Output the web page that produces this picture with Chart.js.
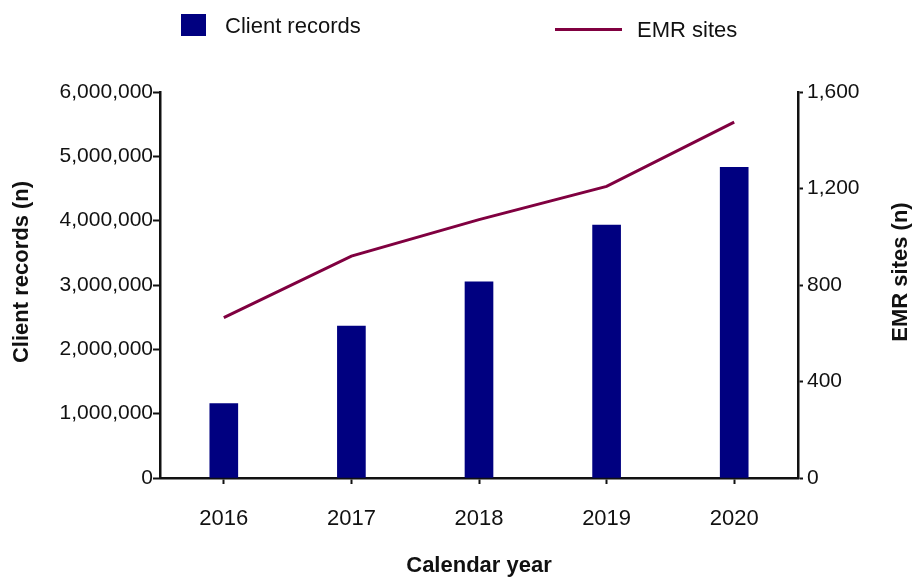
<!DOCTYPE html>
<html>
<head>
<meta charset="utf-8">
<script src="https://cdn.jsdelivr.net/npm/chart.js@4/dist/chart.umd.min.js"></script>
<style>
  html, body { margin: 0; padding: 0; background: #fff; }
  #wrap { position: relative; width: 917px; height: 577px; font-family: "Liberation Sans", Arial, sans-serif; }
  #chart { position: absolute; left: 0; top: 0; }
  .legend { position: absolute; font-size: 22px; color: #111; line-height: 1; }
  .swatch-bar { position: absolute; left: 181px; top: 14px; width: 25px; height: 22px; background: #000080; }
  .swatch-line { position: absolute; left: 555px; top: 28px; width: 67px; height: 3px; background: #800040; }
</style>
</head>
<body>
<div id="wrap">
  <canvas id="chart" width="917" height="577"></canvas>
  <div class="swatch-bar"></div>
  <div class="legend" style="left:225px; top:15px;">Client records</div>
  <div class="swatch-line"></div>
  <div class="legend" style="left:637px; top:19px;">EMR sites</div>
</div>
<script>
{
    const YEARS = ['2016', '2017', '2018', '2019', '2020'];
    const CLIENT_RECORDS = [1155000, 2360000, 3050000, 3930000, 4830000];
    const EMR_SITES = [665, 920, 1071, 1209, 1475];

    const LEFT_MAX = 6000000, LEFT_STEP = 1000000;
    const RIGHT_MAX = 1600, RIGHT_STEP = 400;

    const FONT = '"Liberation Sans", Arial, sans-serif';
    const fmt = v => Number(v).toLocaleString('en-US');

    // vertical axis titles, drawn by hand so they sit where the reference has them
    const sideTitles = {
        id: 'sideTitles',
        afterDraw(chart) {
            const { ctx, chartArea } = chart;
            const midY = (chartArea.top + chartArea.bottom) / 2 - 13;
            ctx.save();
            ctx.font = `bold 22px ${FONT}`;
            ctx.fillStyle = '#111';
            ctx.textAlign = 'center';
            ctx.textBaseline = 'middle';
            ctx.translate(22, midY);
            ctx.rotate(-Math.PI / 2);
            ctx.fillText('Client records (n)', 0, 0);
            ctx.restore();

            ctx.save();
            ctx.font = `bold 22px ${FONT}`;
            ctx.fillStyle = '#111';
            ctx.textAlign = 'center';
            ctx.textBaseline = 'middle';
            ctx.translate(901, midY);
            ctx.rotate(-Math.PI / 2);
            ctx.fillText('EMR sites (n)', 0, 0);
            ctx.restore();
        }
    };

    document.addEventListener('DOMContentLoaded', () => {
        const CHART = new Chart(document.getElementById('chart'), {
            type: 'bar',
            data: {
                labels: YEARS,
                datasets: [
                    {
                        type: 'line',
                        label: 'EMR sites',
                        data: EMR_SITES,
                        yAxisID: 'y1',
                        borderColor: '#800040',
                        borderWidth: 3,
                        pointRadius: 0,
                        tension: 0,
                        fill: false,
                        order: 0
                    },
                    {
                        type: 'bar',
                        label: 'Client records',
                        data: CLIENT_RECORDS,
                        yAxisID: 'y',
                        backgroundColor: '#000080',
                        borderWidth: 0,
                        barThickness: 28,
                        order: 1
                    }
                ]
            },
            options: {
                responsive: false,
                animation: false,
                layout: { padding: { top: 92, left: 0, right: 0, bottom: 0 } },
                plugins: {
                    legend: { display: false },
                    tooltip: { enabled: false }
                },
                scales: {
                    x: {
                        offset: true,
                        afterFit: s => { s.height = 99; },
                        grid: {
                            offset: false,
                            drawOnChartArea: false,
                            drawTicks: true,
                            tickLength: 6,
                            tickWidth: 2,
                            color: '#111'
                        },
                        border: { display: true, color: '#111', width: 2.5 },
                        ticks: { color: '#111', padding: 22, font: { family: FONT, size: 22 } },
                        title: {
                            display: true,
                            text: 'Calendar year',
                            color: '#111',
                            padding: { top: 0, bottom: 0 },
                            font: { family: FONT, size: 22, weight: 'bold', lineHeight: 1 }
                        }
                    },
                    y: {
                        position: 'left',
                        min: 0,
                        max: LEFT_MAX,
                        afterFit: s => { s.width = 160; },
                        grid: {
                            drawOnChartArea: false,
                            tickLength: 7,
                            tickWidth: 2,
                            color: '#111'
                        },
                        border: { display: true, color: '#111', width: 2.5 },
                        ticks: {
                            stepSize: LEFT_STEP,
                            padding: 0,
                            color: '#111',
                            font: { family: FONT, size: 21 },
                            callback: v => fmt(v)
                        }
                    },
                    y1: {
                        position: 'right',
                        min: 0,
                        max: RIGHT_MAX,
                        afterFit: s => { s.width = 119; },
                        grid: {
                            drawOnChartArea: false,
                            tickLength: 5,
                            tickWidth: 2,
                            color: '#111'
                        },
                        border: { display: true, color: '#111', width: 2.5 },
                        ticks: {
                            stepSize: RIGHT_STEP,
                            padding: 4,
                            color: '#111',
                            font: { family: FONT, size: 21 },
                            callback: v => fmt(v)
                        }
                    }
                }
            },
            plugins: [sideTitles]
        });
    });
}
</script>
</body>
</html>
